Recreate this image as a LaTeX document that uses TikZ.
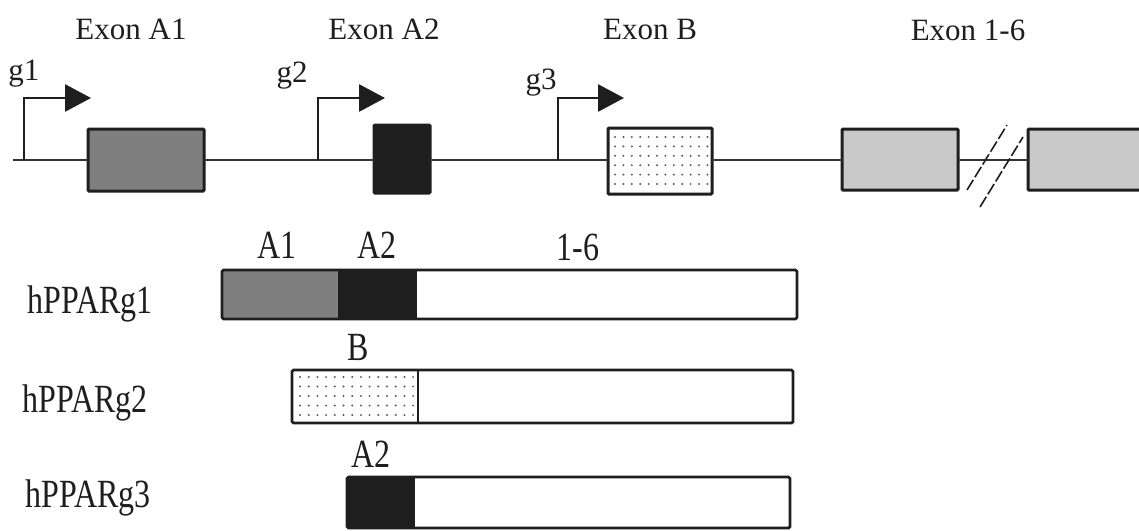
\documentclass[tikz,border=0pt]{standalone}
\usepackage{fontspec}
\setmainfont{Liberation Serif}
\usepackage{graphicx}
\usetikzlibrary{arrows.meta}
\definecolor{inkc}{HTML}{1E1E1E}
\definecolor{midgray}{HTML}{7F7F7F}
\definecolor{lightgray}{HTML}{C9C9C9}
\definecolor{dotc}{HTML}{5A5A5A}
\newcommand{\botlab}[1]{\scalebox{0.8}[1]{\fontsize{40}{40}\selectfont #1}}
\begin{document}
\begin{tikzpicture}[x=1pt,y=-1pt,
  gene/.style={draw=inkc!90, line width=2.5pt},
  exonbox/.style={draw=inkc, line width=3pt, rectangle, inner sep=0pt, outer sep=0pt, rounded corners=1pt},
  prom/.style={draw=inkc, line width=2.8pt, -{Triangle[length=26pt,width=27pt]}},
  toplab/.style={font=\fontsize{31}{31}\selectfont, anchor=base, inner sep=0pt, text=inkc},
  botlabel/.style={anchor=base, inner sep=0pt, text=inkc},
  seg/.style={rectangle, inner sep=0pt, outer sep=0pt},
  barline/.style={draw=inkc, line width=2.8pt, rounded corners=1.5pt},
  breakline/.style={draw=inkc, line width=1.6pt, dash pattern=on 12pt off 3pt}
]
\useasboundingbox (0,0) rectangle (1139,530);

% ---- gene structure ----
\coordinate (start) at (13,160);
\node[exonbox, fill=midgray, minimum width=116pt, minimum height=62pt] (A1) at (146,160) {};
\node[exonbox, fill=inkc, minimum width=56pt, minimum height=68pt] (A2) at (402,159) {};
\node[exonbox, fill=white, minimum width=104pt, minimum height=66pt] (B) at (660,161) {};
\node[exonbox, fill=lightgray, minimum width=116pt, minimum height=61pt] (E1) at (900,159.5) {};
\node[exonbox, fill=lightgray, minimum width=140pt, minimum height=61pt] (E2) at (1098,159.5) {};

\foreach \i in {0,...,11}
  \foreach \j in {0,...,5}
    \fill[dotc] (615+\i*8.4,137+\j*9.4) circle (1.1pt);

\draw[gene] (start) -- (A1.west |- start);
\draw[gene] (A1.east |- start) -- (A2.west |- start);
\draw[gene] (A2.east |- start) -- (B.west |- start);
\draw[gene] (B.east |- start) -- (E1.west |- start);
\draw[gene] (E1.east |- start) -- (E2.west |- start);

% break marks
\coordinate (s1a) at (967,190); \coordinate (s1b) at (1007,125);
\coordinate (s2a) at (980,207); \coordinate (s2b) at (1023,137);
\draw[breakline] (s1a) -- (s1b);
\draw[breakline] (s2a) -- (s2b);

% promoters
\coordinate (p1) at (24,160);
\coordinate (p2) at (318,160);
\coordinate (p3) at (558,160);
\draw[prom] (p1) -- ++(0,-62) -- ++(67,0);
\draw[prom] (p2) -- ++(0,-62) -- ++(67,0);
\draw[prom] (p3) -- ++(0,-62) -- ++(66,0);

\node[toplab] (lg1) at (24,80) {g1};
\node[toplab] (lg2) at (292,82) {g2};
\node[toplab] (lg3) at (541,89) {g3};

\node[toplab] (lA1) at (131,39) {Exon A1};
\node[toplab] (lA2) at (384,39) {Exon A2};
\node[toplab] (lB) at (650,39) {Exon B};
\node[toplab] (lE) at (968,40) {Exon 1-6};

% ---- transcripts ----
% hPPARg1
\node[seg, fill=midgray, minimum width=116pt, minimum height=49pt] (r1a) at (280,294.5) {};
\node[seg, fill=inkc, minimum width=79pt, minimum height=49pt] (r1b) at (377.5,294.5) {};
\node[seg, fill=white, minimum width=380pt, minimum height=49pt] (r1c) at (607,294.5) {};
\draw[barline] (r1a.north west) rectangle (r1c.south east);

% hPPARg2
\node[seg, fill=white, minimum width=126pt, minimum height=53pt] (r2a) at (355,396.5) {};
\node[seg, fill=white, minimum width=375pt, minimum height=53pt] (r2b) at (605.5,396.5) {};
\foreach \i in {0,...,13}
  \foreach \j in {0,...,4}
    \fill[dotc] (300+\i*8.7,377+\j*9.5) circle (1.1pt);
\draw[barline] (r2a.north west) rectangle (r2b.south east);
\draw[draw=inkc, line width=2pt] (r2a.north east) -- (r2a.south east);

% hPPARg3
\node[seg, fill=inkc, minimum width=68pt, minimum height=51pt] (r3a) at (381,502.5) {};
\node[seg, fill=white, minimum width=375pt, minimum height=51pt] (r3b) at (602.5,502.5) {};
\draw[barline] (r3a.north west) rectangle (r3b.south east);

% labels
\node[botlabel] (t1) at (90,313) {\botlab{hPPARg1}};
\node[botlabel] (t2) at (85,412) {\botlab{hPPARg2}};
\node[botlabel] (t3) at (88,507) {\botlab{hPPARg3}};

\node[botlabel] (bA1) at (277,258) {\botlab{A1}};
\node[botlabel] (bA2) at (377,258) {\botlab{A2}};
\node[botlabel] (b16) at (578,260) {\botlab{1-6}};
\node[botlabel] (bB) at (358,360) {\botlab{B}};
\node[botlabel] (bA2b) at (371,467) {\botlab{A2}};
\end{tikzpicture}
\end{document}
